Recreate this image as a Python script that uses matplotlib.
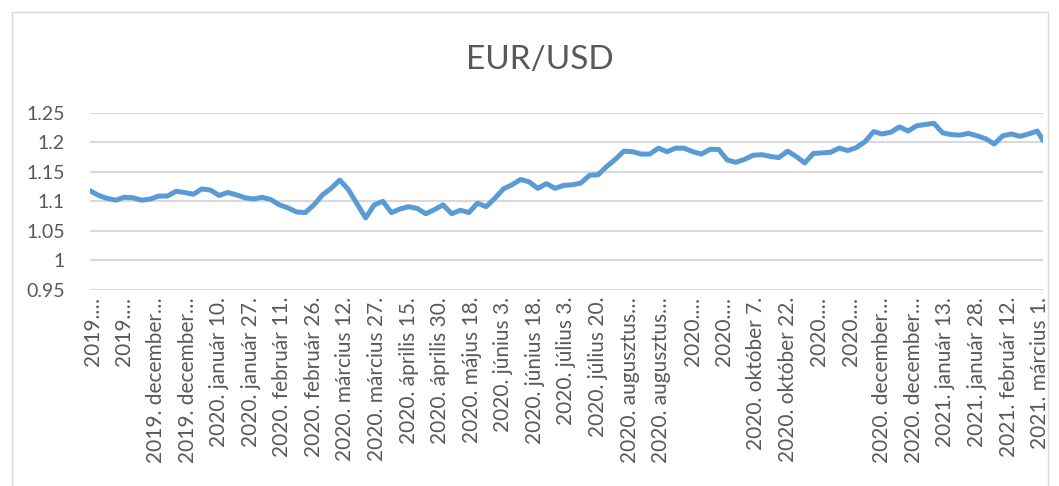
import matplotlib.pyplot as plt
import numpy as np
from matplotlib.patches import Rectangle

plt.rcParams['font.family'] = ['Lato', 'DejaVu Sans']

# EUR/USD, every 3rd trading day (333 trading days in total)
eurusd = [1.118, 1.110, 1.105, 1.102, 1.107, 1.106, 1.102, 1.104, 1.109, 1.109,
          1.117, 1.115, 1.112, 1.121, 1.119, 1.110, 1.115, 1.111, 1.106, 1.104,
          1.107, 1.103, 1.094, 1.089, 1.082, 1.081, 1.094, 1.111, 1.122, 1.136,
          1.120, 1.096, 1.072, 1.094, 1.100, 1.081, 1.087, 1.091, 1.088, 1.079,
          1.086, 1.094, 1.079, 1.085, 1.081, 1.097, 1.091, 1.105, 1.121, 1.128,
          1.137, 1.133, 1.122, 1.130, 1.122, 1.127, 1.128, 1.131, 1.144, 1.145,
          1.159, 1.171, 1.185, 1.184, 1.180, 1.180, 1.190, 1.184, 1.190, 1.190,
          1.184, 1.180, 1.188, 1.188, 1.170, 1.166, 1.171, 1.178, 1.179, 1.176,
          1.174, 1.185, 1.176, 1.165, 1.181, 1.182, 1.183, 1.190, 1.186, 1.191,
          1.201, 1.218, 1.214, 1.217, 1.226, 1.219, 1.228, 1.230, 1.232, 1.216,
          1.213, 1.212, 1.215, 1.211, 1.206, 1.197, 1.211, 1.214, 1.210, 1.214,
          1.219, 1.203]
n_days = 333

xlabels = ["2019.…", "2019.…", "2019. december…", "2019. december…",
           "2020. január 10.", "2020. január 27.", "2020. február 11.",
           "2020. február 26.", "2020. március 12.", "2020. március 27.",
           "2020. április 15.", "2020. április 30.", "2020. május 18.",
           "2020. június 3.", "2020. június 18.", "2020. július 3.",
           "2020. július 20.", "2020. augusztus…", "2020. augusztus…",
           "2020.…", "2020.…", "2020. október 7.", "2020. október 22.",
           "2020.…", "2020.…", "2020. december…", "2020. december…",
           "2021. január 13.", "2021. január 28.", "2021. február 12.",
           "2021. március 1."]
yticks = [0.95, 1.0, 1.05, 1.1, 1.15, 1.2, 1.25]
ylabels = ["0.95", "1", "1.05", "1.1", "1.15", "1.2", "1.25"]

day = np.append(np.arange(0, n_days - 2, 3), n_days - 1)

fig = plt.figure(figsize=(10.59, 4.86), dpi=100)
fig.patches.append(Rectangle((12 / 1059, -0.1), 1036 / 1059, 1.1 - 12 / 486,
                             transform=fig.transFigure, fill=False,
                             edgecolor="#d9d9d9", lw=1))
ax = fig.add_axes([90 / 1059, 1 - 290 / 486, 953 / 1059, 177.3 / 486])

ax.plot(day, eurusd, color="#5b9bd5", lw=3.6, solid_capstyle="round",
        solid_joinstyle="round", zorder=3)

ax.set_xlim(0, n_days - 1)
ax.set_ylim(0.95, 1.25)
ax.set_yticks(yticks)
ax.set_yticklabels(ylabels)
ax.set_xticks(np.arange(1, n_days, 11))
ax.set_xticklabels(xlabels, rotation=90)
ax.tick_params(axis="both", length=0, labelsize=15, colors="#595959")
ax.tick_params(axis="y", pad=18, labelsize=14)
ax.tick_params(axis="x", pad=5)
ax.grid(axis="y", color="#d9d9d9", lw=1.5)
ax.set_axisbelow(True)
for s in ax.spines.values():
    s.set_visible(False)

fig.text(540 / 1059, 1 - 60 / 486, "EUR/USD", ha="center", va="center",
         fontsize=24, color="#595959")

fig.savefig("out.png", dpi=100)
